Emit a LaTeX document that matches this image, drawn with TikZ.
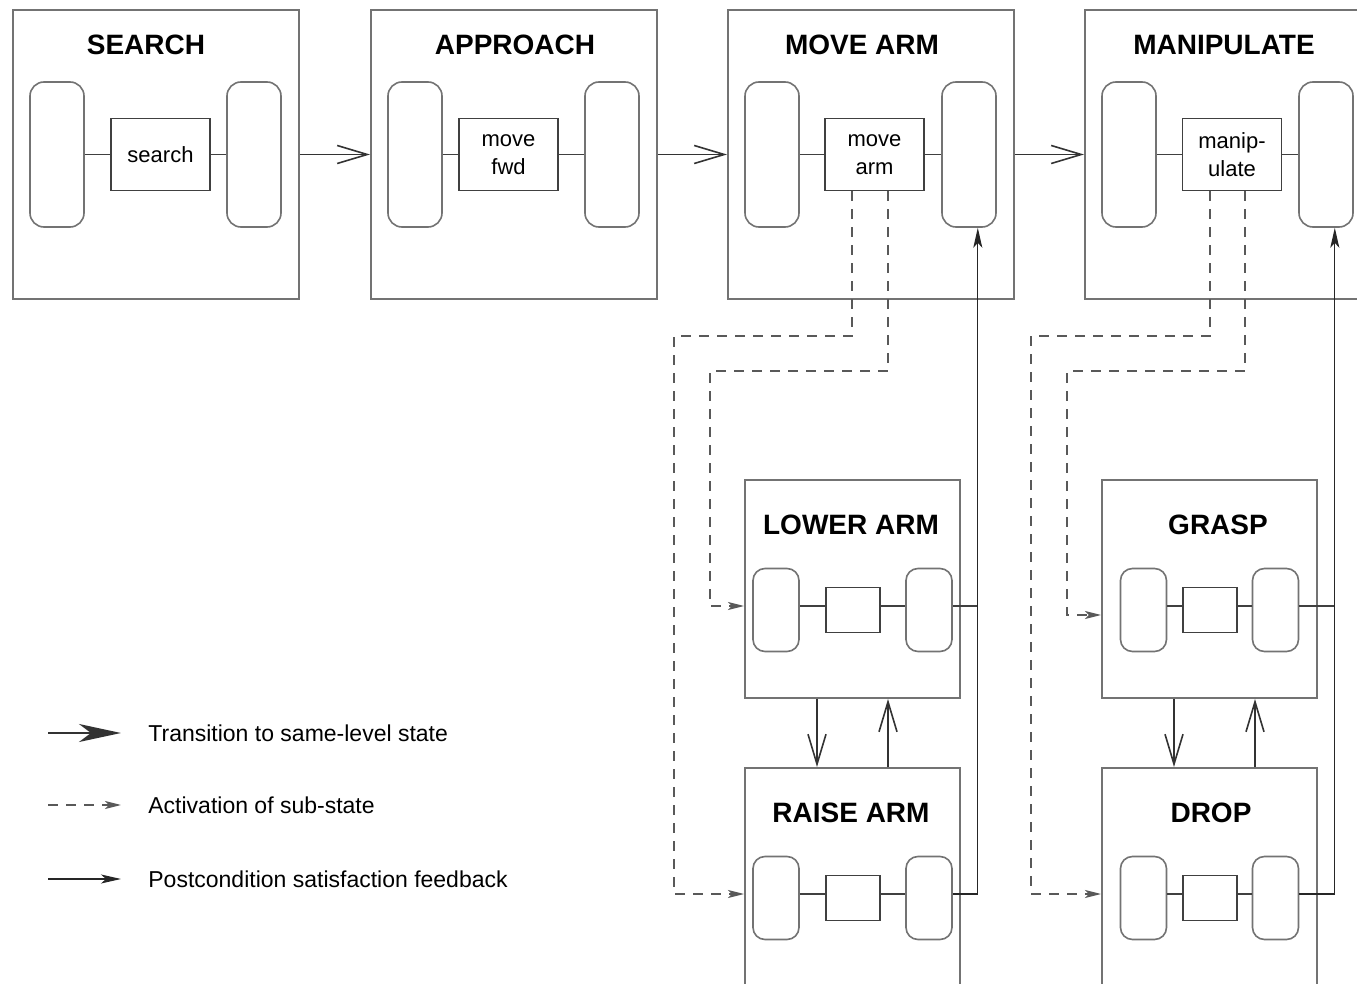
\documentclass[tikz,border=0pt]{standalone}
\usepackage{fontspec}
\setmainfont{Liberation Sans}
\usetikzlibrary{positioning,calc,arrows.meta}

\begin{document}
\begin{tikzpicture}[x=0.5pt,y=-0.5pt,
  state/.style={draw=black!55, line width=1pt, minimum width=143pt, minimum height=144.5pt, inner sep=0pt},
  substate/.style={draw=black!55, line width=1pt, minimum width=107.5pt, minimum height=109pt, inner sep=0pt},
  title/.style={font=\fontsize{14}{16}\selectfont\bfseries},
  cond/.style={draw=black!55, line width=0.8pt, rounded corners=7pt, inner sep=0pt},
  bigcond/.style={cond, minimum width=27pt, minimum height=72.5pt},
  smallcond/.style={cond, rounded corners=6pt, minimum width=23pt, minimum height=41.5pt},
  behav/.style={draw=black!75, line width=0.6pt, inner sep=0pt, align=center, font=\fontsize{11}{14}\selectfont},
  link/.style={draw=black!75, line width=0.6pt},
  trans/.style={black!80, line width=0.8pt, -{Straight Barb[length=15pt,width=9pt]}},
  actv/.style={black!65, line width=0.7pt, dash pattern=on 5pt off 4pt, -{Stealth[length=8pt,width=4pt,inset=2pt]}},
  fback/.style={black!85, line width=0.6pt, -{Stealth[length=10pt,width=4.5pt,inset=2.5pt]}},
  legend/.style={anchor=west, inner sep=0pt, font=\fontsize{11.5}{14}\selectfont}]

\useasboundingbox[fill=white] (0,0) rectangle (1357,984);
\clip (0,0) rectangle (1357,984);

% Top-level states
\foreach \n/\l/\ttl/\tx/\lab/\m in {search/13/SEARCH/146/search/160.5,
    approach/371/APPROACH/515/{move\\fwd}/508.5,
    movearm/728/MOVE ARM/862/{move\\arm}/874.5,
    manip/1085/MANIPULATE/1224/{manip-\\ulate}/1232}{
  \node[state] (\n) at (\l+143,154.5) {};
  \node[title] (\n-t) at (\tx,45) {\ttl};
  \node[bigcond] (\n-l) at (\l+44,154.5) {};
  \node[bigcond] (\n-r) at (\l+241,154.5) {};
  \node[behav, minimum width=49.5pt, minimum height=36pt] (\n-m) at (\m,154.5) {\lab};
  \draw[link] (\n-l) -- (\n-m) -- (\n-r);
}

% Sub-states
\foreach \n/\l/\t/\ttl/\tx/\d in {lower/745/480/LOWER ARM/851/76.5, raise/745/768/RAISE ARM/851/76.5,
    grasp/1102/480/GRASP/1218/66, drop/1102/768/DROP/1211/66}{
  \node[substate] (\n) at (\l+107.5,\t+109) {};
  \node[title] (\n-t) at (\tx,\t+45) {\ttl};
  \node[smallcond] (\n-l) at (\l+107.5-\d,\t+130) {};
  \node[smallcond] (\n-r) at (\l+107.5+\d,\t+130) {};
  \node[behav, minimum width=27pt, minimum height=22.5pt] (\n-m) at (\l+108,\t+130) {};
  \coordinate (\n-c) at (\n.west |- \n-l);
  \coordinate (\n-out) at ([yshift=2pt]\n-r.east);
  \draw[link] ([yshift=2pt]\n-l.east) -- ([yshift=2pt]\n-m.west)
    ([yshift=2pt]\n-m.east) -- ([yshift=2pt]\n-r.west);
}

% Same-level transitions
\draw[trans] (search.east) -- (approach.west);
\draw[trans] (approach.east) -- (movearm.west);
\draw[trans] (movearm.east) -- (manip.west);
\draw[trans] ([xshift=-17.75pt]lower.south) -- ([xshift=-17.75pt]raise.north);
\draw[trans] ([xshift=17.75pt]raise.north) -- ([xshift=17.75pt]lower.south);
\draw[trans] ([xshift=-17.75pt]grasp.south) -- ([xshift=-17.75pt]drop.north);
\draw[trans] ([xshift=22.75pt]drop.north) -- ([xshift=22.75pt]grasp.south);

% Sub-state activation
\draw[actv] ([xshift=-11.25pt]movearm-m.south) |- (674,336) |- ([yshift=2pt]raise-c);
\draw[actv] ([xshift=6.75pt]movearm-m.south) |- (710,371) |- ([yshift=2pt]lower-c);
\draw[actv] ([xshift=-11pt]manip-m.south) |- (1031,336) |- ([yshift=2pt]drop-c);
\draw[actv] ([xshift=6.5pt]manip-m.south) |- (1067,371) |- ([yshift=-2.5pt]grasp-c);

% Postcondition feedback
\coordinate (ma-fb) at ([xshift=4.4pt]movearm-r.south);
\coordinate (mp-fb) at ([xshift=4.4pt]manip-r.south);
\draw[link] (lower-out) -- (lower-out -| ma-fb);
\draw[fback] (raise-out) -| (ma-fb);
\draw[link] (grasp-out) -- (grasp-out -| mp-fb);
\draw[fback] (drop-out) -| (mp-fb);

% Legend
\node[legend] (lg-tr) at (148,733) {Transition to same-level state};
\node[legend] (lg-act) at (148,805) {Activation of sub-state};
\node[legend] (lg-fb) at (148,879) {Postcondition satisfaction feedback};
\draw[black!80, line width=1pt, -{Stealth[length=21pt,width=9pt,inset=6pt]}]
  ([xshift=-50pt]lg-tr.west) -- ([xshift=-13.5pt]lg-tr.west);
\draw[actv] ([xshift=-50pt]lg-act.west) -- ([xshift=-13.5pt]lg-act.west);
\draw[fback] ([xshift=-50pt]lg-fb.west) -- ([xshift=-13.5pt]lg-fb.west);
\end{tikzpicture}
\end{document}
